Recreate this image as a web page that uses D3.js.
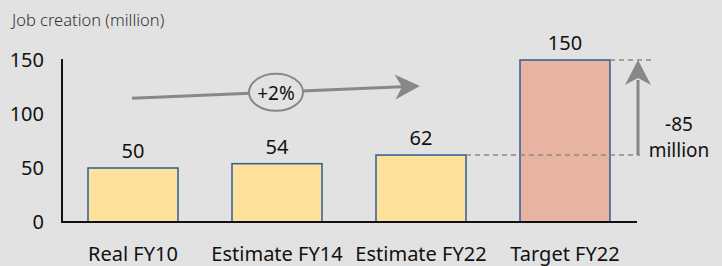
<!DOCTYPE html>
<html><head><meta charset="utf-8">
<script src="https://cdn.jsdelivr.net/npm/d3@7"></script>
<style>
html,body{margin:0;padding:0;background:#e2e2e2;}
svg{display:block;font-family:"Noto Sans","Open Sans",sans-serif;}
</style></head>
<body>
<svg id="chart" width="722" height="266"></svg>
<script>
const categories = ["Real FY10", "Estimate FY14", "Estimate FY22", "Target FY22"];
const values = [50, 54, 62, 150];
const yTicks = [0, 50, 100, 150];
const title = "Job creation (million)";
const growthLabel = "+2%";
const gapLabel = ["-85", "million"];

const svg = d3.select("#chart");
const x = d3.scaleBand().domain(categories).range([61, 637]).paddingInner(0.375).paddingOuter(0.1875);
const y = d3.scaleLinear().domain([0, 150]).range([222, 60]);

svg.append("rect").attr("width", 722).attr("height", 266).attr("fill", "#e2e2e2");

svg.append("text").attr("x", 12).attr("y", 26).attr("font-size", 16.5).attr("fill", "#333")
  .attr("font-weight", 300).text(title);

// bars
svg.selectAll("rect.bar").data(values).join("rect").attr("class", "bar")
  .attr("x", (d, i) => x(categories[i]))
  .attr("y", d => y(d))
  .attr("width", x.bandwidth())
  .attr("height", d => y(0) - y(d))
  .attr("fill", (d, i) => i === 3 ? "#e6b4a1" : "#fee29c")
  .attr("stroke", "#2e5c95").attr("stroke-width", 1.5);

// value labels
svg.selectAll("text.val").data(values).join("text").attr("class", "val")
  .attr("x", (d, i) => x(categories[i]) + x.bandwidth() / 2)
  .attr("y", d => y(d) - 10)
  .attr("text-anchor", "middle").attr("font-size", 20).attr("fill", "#111")
  .text(d => d);

// category labels
svg.selectAll("text.cat").data(categories).join("text").attr("class", "cat")
  .attr("x", d => x(d) + x.bandwidth() / 2)
  .attr("y", 261)
  .attr("text-anchor", "middle").attr("font-size", 20).attr("fill", "#111")
  .text(d => d);

// y tick labels
svg.selectAll("text.tick").data(yTicks).join("text").attr("class", "tick")
  .attr("x", 44).attr("y", d => y(d) + 7)
  .attr("text-anchor", "end").attr("font-size", 20).attr("fill", "#111")
  .text(d => d);

// axes lines
svg.append("line").attr("x1", 62).attr("x2", 62).attr("y1", 59).attr("y2", y(0) + 1)
  .attr("stroke", "#111").attr("stroke-width", 2);
svg.append("line").attr("x1", 61).attr("x2", 637).attr("y1", y(0)).attr("y2", y(0))
  .attr("stroke", "#111").attr("stroke-width", 2);

// dashed reference lines
const x3r = x(categories[2]) + x.bandwidth();
const x4r = x(categories[3]) + x.bandwidth();
svg.append("line").attr("x1", x3r).attr("x2", 640).attr("y1", y(values[2])).attr("y2", y(values[2]))
  .attr("stroke", "#8a8a8a").attr("stroke-width", 1.5).attr("stroke-dasharray", "5,4");
svg.append("line").attr("x1", x4r).attr("x2", 651).attr("y1", y(values[3])).attr("y2", y(values[3]))
  .attr("stroke", "#8a8a8a").attr("stroke-width", 1.5).attr("stroke-dasharray", "5,4");

// vertical gap arrow
const ax = 638;
svg.append("line").attr("x1", ax).attr("x2", ax).attr("y1", y(values[2])).attr("y2", y(values[3]) + 20)
  .attr("stroke", "#888").attr("stroke-width", 3);
svg.append("path")
  .attr("d", `M${ax},${y(values[3])} L${ax + 13},${y(values[3]) + 25} L${ax},${y(values[3]) + 18} L${ax - 13},${y(values[3]) + 25} Z`)
  .attr("fill", "#888");
svg.append("text").attr("x", 679).attr("y", 131).attr("text-anchor", "middle")
  .attr("font-size", 19).attr("fill", "#111").text(gapLabel[0]);
svg.append("text").attr("x", 679).attr("y", 157).attr("text-anchor", "middle")
  .attr("font-size", 19).attr("fill", "#111").text(gapLabel[1]);

// trend arrow
const tx1 = 132, ty1 = 98.3, tx2 = 420, ty2 = 86;
const ang = Math.atan2(ty2 - ty1, tx2 - tx1);
const ca = Math.cos(ang), sa = Math.sin(ang);
const pt = (along, perp) => [tx2 + along * ca - perp * sa, ty2 + along * sa + perp * ca];
svg.append("line").attr("x1", tx1).attr("y1", ty1).attr("x2", pt(-18, 0)[0]).attr("y2", pt(-18, 0)[1])
  .attr("stroke", "#888").attr("stroke-width", 3);
const h = [pt(0, 0), pt(-25, 12.5), pt(-18, 0), pt(-25, -12.5)];
svg.append("path").attr("d", "M" + h.map(p => p.join(",")).join(" L") + " Z").attr("fill", "#888");

svg.append("ellipse").attr("cx", 276).attr("cy", 92.3).attr("rx", 27).attr("ry", 18.5)
  .attr("fill", "#e2e2e2").attr("stroke", "#888").attr("stroke-width", 2);
svg.append("text").attr("x", 276).attr("y", 100).attr("text-anchor", "middle")
  .attr("font-size", 19).attr("fill", "#111").text(growthLabel);
</script>
</body></html>
